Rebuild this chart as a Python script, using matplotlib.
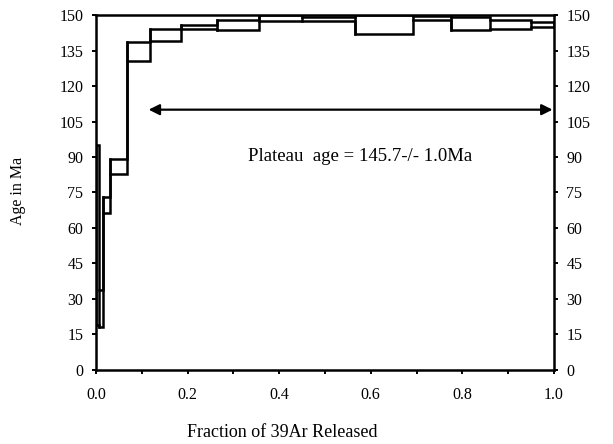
import numpy as np
import matplotlib.pyplot as plt

# step boundaries (cumulative fraction of 39Ar released)
edges = [0.000, 0.006, 0.015, 0.030, 0.068, 0.118, 0.185, 0.264, 0.355,
         0.450, 0.566, 0.692, 0.775, 0.860, 0.951, 1.000]
# apparent age of each step (Ma) and its uncertainty
ages = [57.0, 26.0, 69.8, 86.0, 134.5, 141.5, 144.9, 145.8, 148.8,
        148.3, 146.2, 148.8, 146.5, 146.0, 146.1]
errs = [38.0, 8.0, 3.3, 3.0, 4.0, 2.5, 0.8, 2.2, 1.3,
        1.0, 4.2, 0.9, 2.8, 1.9, 1.1]

plateau_start = 0.115
plateau_end = 1.0
plateau_text = "Plateau  age = 145.7-/- 1.0Ma"

plt.rcParams['font.family'] = ['Liberation Serif', 'DejaVu Serif']

fig = plt.figure(figsize=(6.13, 4.44), dpi=100)
ax = fig.add_axes([0.1566, 0.1667, 0.747, 0.7995])

ages = np.array(ages)
errs = np.array(errs)
upper = np.minimum(ages + errs, 150)
lower = ages - errs

# upper and lower envelopes drawn as stairs -> error boxes
lw = 1.8
ax.stairs(upper, edges, baseline=None, color='black', linewidth=lw)
ax.stairs(lower, edges, baseline=None, color='black', linewidth=lw)
for e, u, l in zip(edges[:-1], upper, lower):
    ax.plot([e, e], [l, u], color='black', linewidth=lw)
ax.plot([edges[-1], edges[-1]], [lower[-1], upper[-1]], color='black', linewidth=lw)

# plateau arrow
ax.annotate('', xy=(plateau_end - 0.003, 110), xytext=(plateau_start, 110),
            arrowprops=dict(arrowstyle='<|-|>', color='black', lw=1.6,
                            mutation_scale=16, shrinkA=0, shrinkB=0))
ax.text(0.576, 90, plateau_text, ha='center', va='center', fontsize=13.5)

ax.set_xlim(0, 1.0)
ax.set_ylim(0, 150)
ax.set_xticks(np.arange(0, 1.01, 0.2))
ax.set_xticklabels(['0.0', '0.2', '0.4', '0.6', '0.8', '1.0'])
ax.set_xticks(np.arange(0, 1.01, 0.1), minor=True)
ax.set_yticks(np.arange(0, 151, 15))

ax.tick_params(axis='both', which='both', labelsize=11.5, width=1.4, length=3,
               direction='out')
ax.tick_params(axis='x', pad=9)
ax.tick_params(axis='y', pad=6, right=True, labelright=True)
for s in ax.spines.values():
    s.set_linewidth(1.8)

fig.text(0.03, 0.57, 'Age in Ma', rotation=90, ha='center', va='center', fontsize=11.5)
fig.text(0.46, 0.027, 'Fraction of 39Ar Released', ha='center', va='center', fontsize=13)

fig.savefig('out.png', dpi=100)
